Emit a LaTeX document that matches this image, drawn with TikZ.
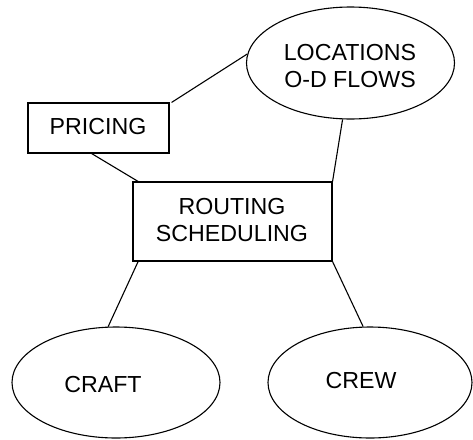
\documentclass[tikz,border=0pt]{standalone}
\usepackage{fontspec}
\setmainfont{Liberation Sans}
\usetikzlibrary{shapes.geometric}
\begin{document}
\begin{tikzpicture}[x=1pt,y=-1pt,
  lbl/.style={font=\fontsize{23.2}{27.5}\selectfont, align=center},
  oval/.style={draw, ellipse, line width=1.1pt, inner sep=0pt, lbl},
  boxnode/.style={draw, rectangle, line width=1.1pt, inner sep=0pt, lbl},
  link/.style={line width=1.1pt}]
\useasboundingbox (0,0) rectangle (473,439);
\node[oval, minimum width=208pt, minimum height=112pt] (loc) at (350.5,63) {};
\node[lbl] (loct) at (350,66) {LOCATIONS\\O-D FLOWS};
\node[boxnode, minimum width=141pt, minimum height=50pt] (pricing) at (98.5,128) {};
\node[lbl] (pricingt) at (98,127) {PRICING};
\node[boxnode, minimum width=199pt, minimum height=79pt] (routing) at (232.5,221.5) {};
\node[lbl] (routingt) at (232,220) {ROUTING\\SCHEDULING};
\node[oval, minimum width=208pt, minimum height=111pt] (craft) at (116,382.5) {};
\node[lbl] (craftt) at (103,385) {CRAFT};
\node[oval, minimum width=204pt, minimum height=111pt] (crew) at (370,382.5) {};
\node[lbl] (crewt) at (361,381) {CREW};
\draw[link] ([xshift=2pt]pricing.north east) -- (loc.175);
\draw[link] (pricing.-105) -- (routing.157);
\draw[link] (routing.north east) -- (loc.-98);
\draw[link] (routing.-157) -- (craft.98);
\draw[link] (routing.south east) -- (crew.97);
\end{tikzpicture}
\end{document}
